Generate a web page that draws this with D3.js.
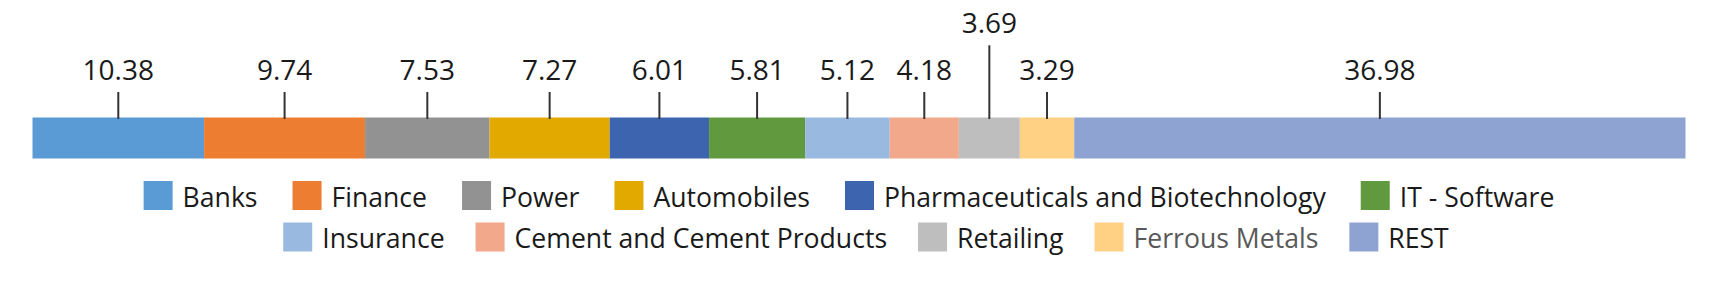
<!DOCTYPE html>
<html>
<head>
<meta charset="utf-8">
<script src="https://cdn.jsdelivr.net/npm/d3@7"></script>
<style>
  html, body { margin: 0; padding: 0; background: #ffffff; }
  svg { display: block; font-family: "Open Sans", "Noto Sans", sans-serif; }
</style>
</head>
<body>
<svg id="chart" width="1712" height="292"></svg>
<script>
// ---- data ----
const categories = ["Banks", "Finance", "Power", "Automobiles", "Pharmaceuticals and Biotechnology",
  "IT - Software", "Insurance", "Cement and Cement Products", "Retailing", "Ferrous Metals", "REST"];
const values = [10.38, 9.74, 7.53, 7.27, 6.01, 5.81, 5.12, 4.18, 3.69, 3.29, 36.98];
const seriesName = ["Sector weight"];
const legendRowSizes = [6, 5];

// ---- styles ----
const palette = ["#5B9BD5", "#ED7D31", "#929292", "#E2AA00", "#3D64AE", "#619A3E",
  "#99B9E0", "#F1A88B", "#BEBEBE", "#FFD184", "#8FA3D3"];
const legendTextColor = d => d === "Ferrous Metals" ? "#595959" : "#1a1a1a";

const svg = d3.select("#chart");

// ---- scales ----
const total = d3.sum(values);
const x = d3.scaleLinear().domain([0, total]).range([32.5, 1685.5]);
const y = d3.scaleBand().domain(seriesName).range([117.5, 158.5]).padding(0);
const color = d3.scaleOrdinal().domain(categories).range(palette);

const ends = Array.from(d3.cumsum(values));
const segs = categories.map((c, i) => ({
  cat: c, value: values[i], x0: ends[i] - values[i], x1: ends[i]
}));

// ---- bars ----
svg.append("g").selectAll("rect").data(segs).join("rect")
  .attr("x", d => x(d.x0))
  .attr("y", y(seriesName[0]))
  .attr("width", d => x(d.x1) - x(d.x0))
  .attr("height", y.bandwidth())
  .attr("fill", d => color(d.cat));

// ---- data labels with leader ticks ----
const fmt = d3.format(".2f");
const barTop = y(seriesName[0]);
const labelBase = 80, raise = 46.7;
const lg = svg.append("g");
const labels = lg.selectAll("g.lab").data(segs).join("g").attr("class", "lab");
labels.append("text")
  .attr("x", d => x((d.x0 + d.x1) / 2))
  .attr("y", labelBase)
  .attr("text-anchor", "middle")
  .attr("font-size", 28)
  .attr("fill", "#1a1a1a")
  .text(d => fmt(d.value));

// collision avoidance: walk right to left, raise a label that would touch its placed neighbour
const nodes = labels.select("text").nodes();
let lastLeft = Infinity;
for (let i = segs.length - 1; i >= 0; i--) {
  const bb = nodes[i].getBBox();
  if (bb.x + bb.width + 4 > lastLeft) {
    segs[i].raised = true;
  } else {
    segs[i].raised = false;
    lastLeft = bb.x;
  }
}
labels.select("text").attr("y", d => d.raised ? labelBase - raise : labelBase);
labels.append("line")
  .attr("x1", d => x((d.x0 + d.x1) / 2))
  .attr("x2", d => x((d.x0 + d.x1) / 2))
  .attr("y1", d => (d.raised ? labelBase - raise : labelBase) + 12)
  .attr("y2", barTop + 1.5)
  .attr("stroke", "#333333")
  .attr("stroke-width", 2);

// ---- legend ----
const sw = 29, textGap = 10;
const rowGaps = [35, 31];
const rowCenters = [849, 866];
const rowTops = [181, 222.5];
let idx = 0;
legendRowSizes.forEach((n, r) => {
  const items = categories.slice(idx, idx + n);
  idx += n;
  const row = svg.append("g");
  const g = row.selectAll("g").data(items).join("g");
  g.append("rect").attr("width", sw).attr("height", sw).attr("fill", d => color(d));
  g.append("text")
    .attr("x", sw + textGap)
    .attr("y", 25.7)
    .attr("font-size", 26.6)
    .attr("fill", legendTextColor)
    .text(d => d);
  const widths = g.nodes().map(node => sw + textGap + node.querySelector("text").getComputedTextLength());
  const totalW = d3.sum(widths) + rowGaps[r] * (n - 1);
  let cx = rowCenters[r] - totalW / 2;
  g.attr("transform", (d, i) => {
    const t = `translate(${cx},${rowTops[r]})`;
    cx += widths[i] + rowGaps[r];
    return t;
  });
});
</script>
</body>
</html>
